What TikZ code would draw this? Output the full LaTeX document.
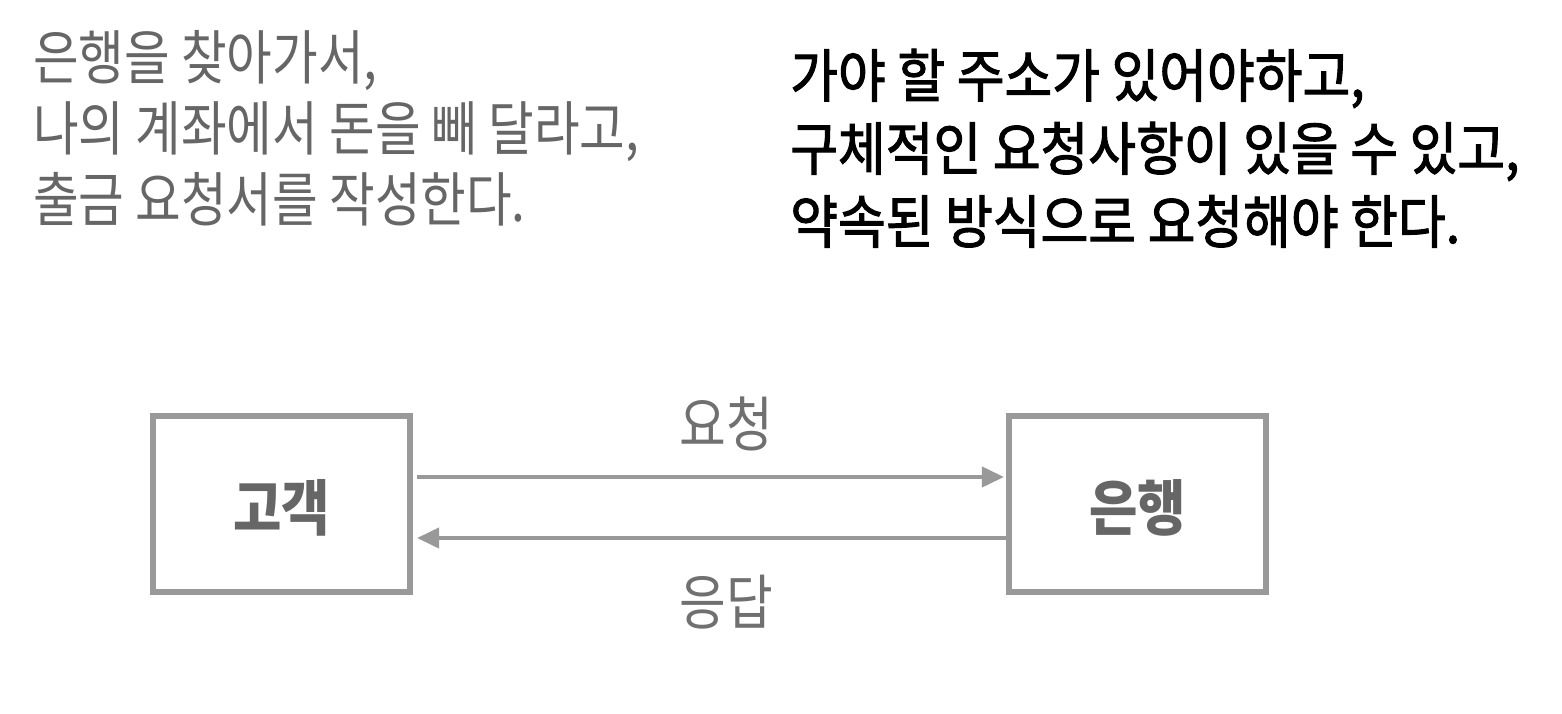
\documentclass[tikz,border=0pt]{standalone}
\usepackage{fontspec}
\usepackage{tikz}
\usetikzlibrary{positioning,arrows.meta,calc}
\newfontfamily\krfont[FakeStretch=0.84]{Noto Sans CJK KR}
\newfontfamily\krmed[FakeStretch=0.90,FakeBold=1.8]{Noto Sans CJK KR}
\newfontfamily\krbox[FakeStretch=0.87]{Noto Sans CJK KR}
\newfontfamily\krmsg[FakeStretch=0.85]{Noto Sans CJK KR}
\definecolor{textgray}{RGB}{102,102,102}
\definecolor{linegray}{RGB}{153,153,153}
\definecolor{labelgray}{RGB}{112,112,112}
\tikzset{
    note/.style={anchor=base west, inner sep=0pt, text=textgray, font=\krfont\fontsize{42pt}{46pt}\selectfont},
    rule/.style={anchor=base west, inner sep=0pt, text=black, font=\krmed\fontsize{41pt}{45pt}\selectfont},
    party/.style={draw=linegray, line width=0.15cm, minimum width=6.425cm, minimum height=4.4cm, inner sep=0pt, text=textgray, font=\krbox\bfseries\fontsize{43pt}{46pt}\selectfont},
    msg/.style={inner sep=0pt, text=labelgray, font=\krmsg\fontsize{42.5pt}{46pt}\selectfont},
    arrow/.style={-{Triangle[length=0.55cm,width=0.5cm]}, line width=0.1cm, draw=linegray}
}
\begin{document}
\begin{tikzpicture}[x=0.025cm,y=-0.025cm]
\useasboundingbox (0,0) rectangle (1562,714);
% what the customer does
\foreach \txt [count=\i] in {{은행을 찾아가서,},{나의 계좌에서 돈을 빼 달라고,},{출금 요청서를 작성한다.}}
    \node[note] (note\i) at (33,{80+71*(\i-1)}) {\txt};
% what a request needs
\foreach \txt [count=\i] in {{가야 할 주소가 있어야하고,},{구체적인 요청사항이 있을 수 있고,},{약속된 방식으로 요청해야 한다.}}
    \node[rule] (rule\i) at (790,{97+73*(\i-1)}) {\txt};
\node[party] (cust) at (281.5,504) {};
\node[party] (bank) at (1137.5,504) {};
\node[party, draw=none] (custname) at (281.5,508) {고객};
\node[party, draw=none] (bankname) at (1137.5,508) {은행};
\draw[arrow] ([xshift=0.1cm,yshift=0.675cm]cust.east) -- ([xshift=-0.05cm,yshift=0.675cm]bank.west);
\draw[arrow] ([yshift=-0.85cm]bank.west) -- ([xshift=0.1cm,yshift=-0.85cm]cust.east);
\node[msg] (req) at (726,424) {요청};
\node[msg] (resp) at (726,602) {응답};
\end{tikzpicture}
\end{document}
